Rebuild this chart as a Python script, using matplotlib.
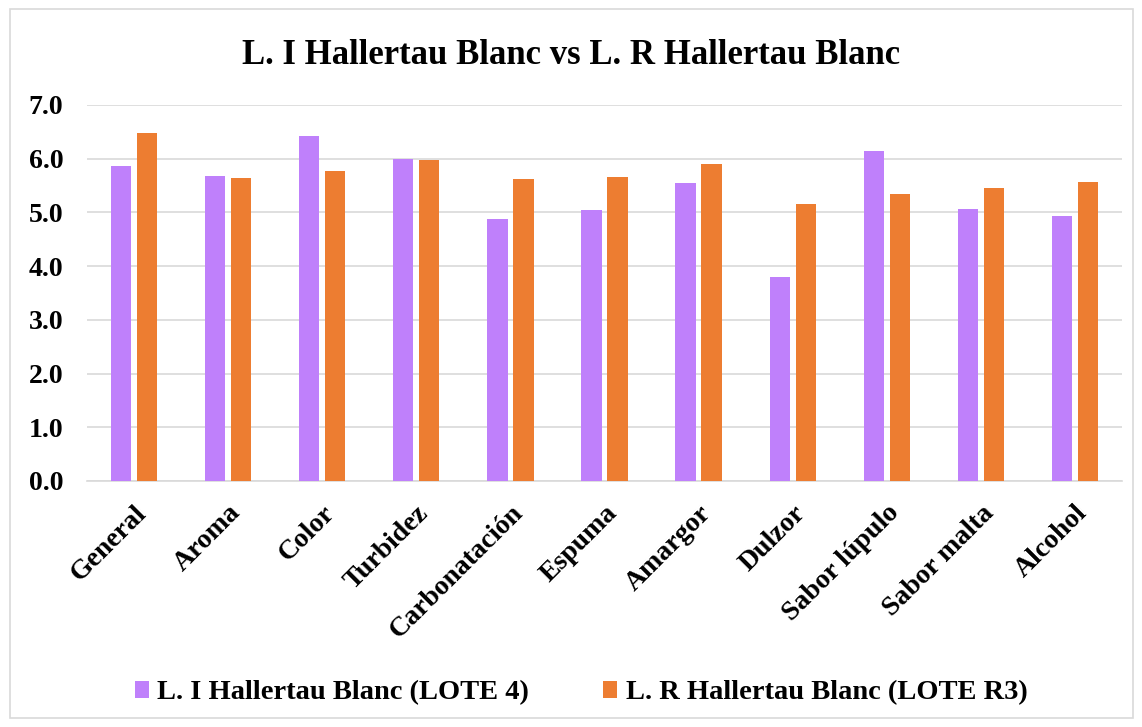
import matplotlib
matplotlib.use("Agg")
import matplotlib.pyplot as plt
import numpy as np
from matplotlib.patches import Rectangle

categories = ["General", "Aroma", "Color", "Turbidez", "Carbonatación", "Espuma",
              "Amargor", "Dulzor", "Sabor lúpulo", "Sabor malta", "Alcohol"]
lote4 = [5.86, 5.67, 6.43, 6.00, 4.88, 5.04, 5.54, 3.79, 6.14, 5.06, 4.93]
loteR3 = [6.48, 5.64, 5.78, 5.97, 5.63, 5.66, 5.91, 5.16, 5.35, 5.45, 5.57]
series_names = ["L. I Hallertau Blanc (LOTE 4)", "L. R Hallertau Blanc (LOTE R3)"]
yticks = [0, 1, 2, 3, 4, 5, 6, 7]
title = "L. I Hallertau Blanc vs L. R Hallertau Blanc"

plt.rcParams['font.family'] = ['Liberation Serif', 'DejaVu Serif']
plt.rcParams['font.weight'] = 'bold'

fig = plt.figure(figsize=(11.42, 7.27), dpi=100)
fig.patches.append(Rectangle((10/1142, 9/727), 1123/1142, 709/727, transform=fig.transFigure,
                             fill=False, edgecolor='#d9d9d9', linewidth=1.2))
ax = fig.add_axes([87/1142, 246/727, 1035/1142, (481-105)/727])

x = np.arange(len(categories))
w = 0.215
off = 0.138
c1 = '#bf80fb'
c2 = '#ed7d31'
ax.bar(x - off, lote4, w, color=c1, label=series_names[0], zorder=3)
ax.bar(x + off, loteR3, w, color=c2, label=series_names[1], zorder=3)

ax.set_xlim(-0.5, len(categories) - 0.5)
ax.set_ylim(0, 7)
ax.set_yticks(yticks)
ax.set_yticklabels([f"{v:.1f}" for v in yticks], fontsize=20, fontweight='bold')
ax.set_xticks(x)
ax.set_xticklabels(categories, rotation=45, ha='right', rotation_mode='anchor',
                   fontsize=20, fontweight='bold')
ax.tick_params(axis='x', length=0, pad=14)
ax.tick_params(axis='y', length=0, pad=17)
ax.grid(axis='y', color='#d9d9d9', linewidth=1.2, zorder=0)
for s in ['top', 'right', 'left']:
    ax.spines[s].set_visible(False)
ax.spines['bottom'].set_color('#d9d9d9')
ax.spines['bottom'].set_linewidth(1.2)

fig.text(0.5, 1 - 55/727, title, ha='center', va='center', fontsize=25, fontweight='bold')

fig.legend(loc='center', bbox_to_anchor=(581/1142, 1 - 693/727), ncol=2, frameon=False,
           prop={'size': 20.5, 'weight': 'bold'}, handlelength=0.5, handleheight=0.5,
           handletextpad=0.29, columnspacing=2.6)

fig.savefig("out.png", dpi=100)
